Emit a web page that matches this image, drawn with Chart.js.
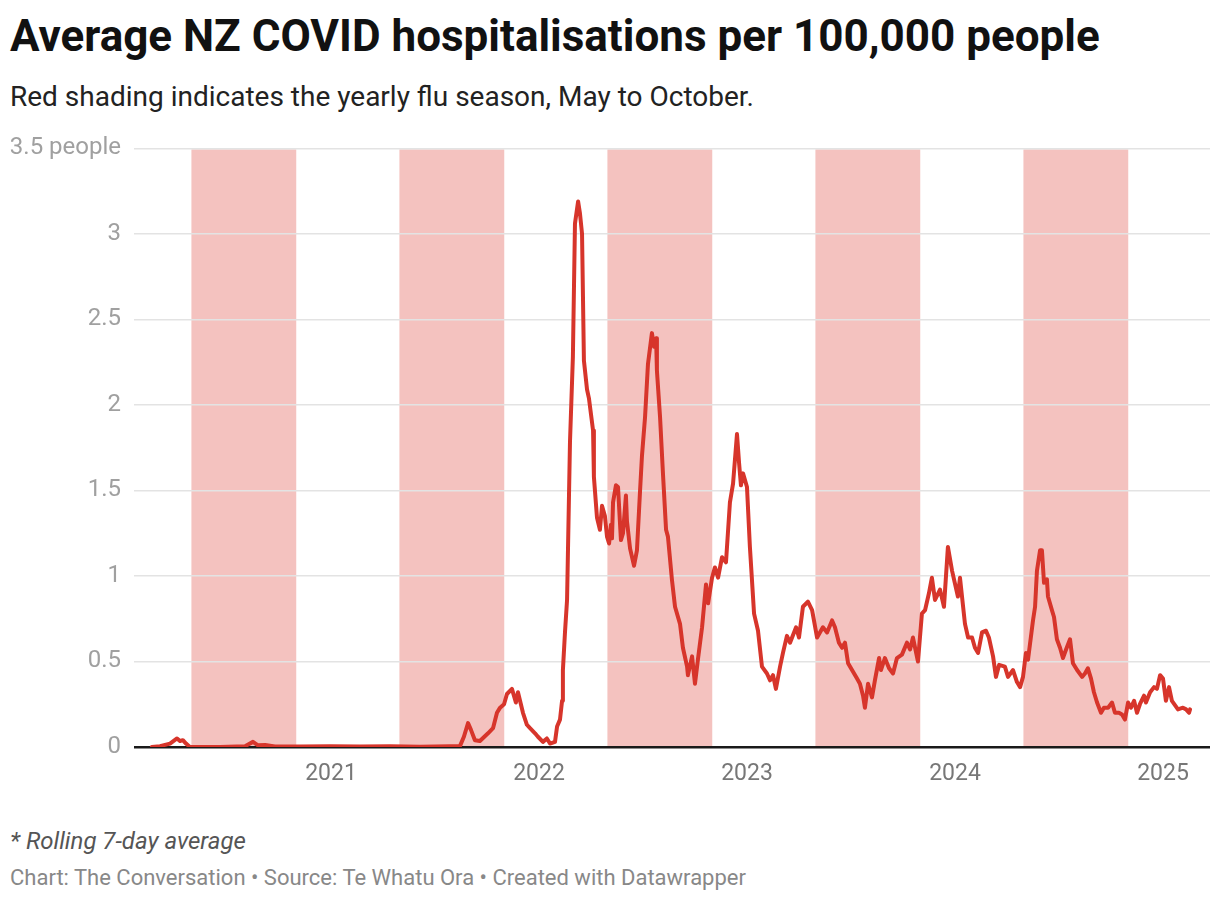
<!DOCTYPE html>
<html>
<head>
<meta charset="utf-8">
<script src="https://cdn.jsdelivr.net/npm/chart.js@4.4.0/dist/chart.umd.min.js"></script>
<style>
  html, body { margin: 0; padding: 0; background: #fff; }
  body { width: 1220px; height: 902px; position: relative; overflow: hidden; font-family: Roboto, "Noto Sans", sans-serif; }
  .t { position: absolute; left: 10px; white-space: nowrap; line-height: 1; }
  #title { top: 14px; font-size: 44px; font-weight: 700; color: #111; }
  #sub { top: 83px; font-size: 28px; color: #222; }
  #note { top: 829px; font-size: 24px; font-style: italic; color: #555; }
  #src { top: 867px; font-size: 22px; color: #888; }
  #wrap { position: absolute; left: 0; top: 121px; width: 1220px; height: 679px; }
</style>
</head>
<body>
<div class="t" id="title">Average NZ COVID hospitalisations per 100,000 people</div>
<div class="t" id="sub">Red shading indicates the yearly flu season, May to October.</div>
<div id="wrap"><canvas id="c"></canvas></div>
<div class="t" id="note">* Rolling 7-day average</div>
<div class="t" id="src">Chart: The Conversation • Source: Te Whatu Ora • Created with Datawrapper</div>
<script>
// Dates as decimal years
const dates = [
  2020.139, 2020.178, 2020.226, 2020.260, 2020.274, 2020.288, 2020.303, 2020.322, 2020.466, 2020.587,
  2020.625, 2020.649, 2020.683, 2020.731, 2020.851, 2020.995, 2021.139, 2021.284, 2021.428, 2021.572,
  2021.620, 2021.639, 2021.659, 2021.673, 2021.692, 2021.716, 2021.755, 2021.779, 2021.798, 2021.813,
  2021.832, 2021.846, 2021.870, 2021.889, 2021.899, 2021.923, 2021.942, 2021.957, 2021.981, 2021.995,
  2022.019, 2022.038, 2022.053, 2022.077, 2022.087, 2022.101, 2022.111, 2022.115, 2022.125, 2022.135,
  2022.149, 2022.163, 2022.173, 2022.188, 2022.197, 2022.207, 2022.216, 2022.231, 2022.240, 2022.260,
  2022.264, 2022.279, 2022.293, 2022.303, 2022.317, 2022.327, 2022.337, 2022.346, 2022.351, 2022.356,
  2022.370, 2022.380, 2022.394, 2022.404, 2022.418, 2022.423, 2022.438, 2022.457, 2022.471, 2022.486,
  2022.495, 2022.510, 2022.524, 2022.543, 2022.553, 2022.563, 2022.567, 2022.582, 2022.596, 2022.611,
  2022.620, 2022.639, 2022.654, 2022.678, 2022.692, 2022.712, 2022.716, 2022.736, 2022.750, 2022.764,
  2022.784, 2022.803, 2022.813, 2022.832, 2022.846, 2022.861, 2022.880, 2022.899, 2022.918, 2022.933,
  2022.952, 2022.962, 2022.971, 2022.981, 2023.000, 2023.014, 2023.034, 2023.053, 2023.072, 2023.096,
  2023.111, 2023.125, 2023.139, 2023.159, 2023.173, 2023.192, 2023.207, 2023.236, 2023.250, 2023.269,
  2023.293, 2023.313, 2023.337, 2023.365, 2023.385, 2023.409, 2023.423, 2023.442, 2023.457, 2023.471,
  2023.486, 2023.505, 2023.529, 2023.543, 2023.558, 2023.567, 2023.582, 2023.601, 2023.615, 2023.635,
  2023.644, 2023.663, 2023.683, 2023.702, 2023.721, 2023.745, 2023.769, 2023.784, 2023.798, 2023.822,
  2023.841, 2023.856, 2023.875, 2023.889, 2023.904, 2023.928, 2023.947, 2023.966, 2023.986, 2024.014,
  2024.024, 2024.048, 2024.063, 2024.082, 2024.096, 2024.111, 2024.130, 2024.149, 2024.163, 2024.183,
  2024.197, 2024.212, 2024.240, 2024.255, 2024.279, 2024.298, 2024.313, 2024.327, 2024.341, 2024.351,
  2024.375, 2024.385, 2024.394, 2024.409, 2024.418, 2024.428, 2024.442, 2024.447, 2024.466, 2024.476,
  2024.490, 2024.505, 2024.519, 2024.534, 2024.553, 2024.567, 2024.587, 2024.611, 2024.625, 2024.639,
  2024.654, 2024.668, 2024.683, 2024.702, 2024.716, 2024.736, 2024.755, 2024.769, 2024.788, 2024.803,
  2024.817, 2024.832, 2024.846, 2024.861, 2024.875, 2024.889, 2024.909, 2024.918, 2024.938, 2024.957,
  2024.971, 2024.986, 2025.000, 2025.014, 2025.029, 2025.043, 2025.072, 2025.096, 2025.111, 2025.125,
  2025.130
];
const hospitalisations = [
  0.00, 0.005, 0.02, 0.05, 0.035, 0.04, 0.02, 0.00, 0.00, 0.005,
  0.03, 0.01, 0.012, 0.003, 0.003, 0.005, 0.003, 0.005, 0.002, 0.004,
  0.005, 0.06, 0.14, 0.10, 0.04, 0.035, 0.08, 0.11, 0.20, 0.23,
  0.25, 0.31, 0.34, 0.26, 0.32, 0.20, 0.13, 0.11, 0.08, 0.06,
  0.03, 0.05, 0.02, 0.03, 0.12, 0.16, 0.27, 0.45, 0.67, 0.86,
  1.78, 2.28, 3.06, 3.19, 3.12, 3.00, 2.26, 2.09, 2.04, 1.85,
  1.58, 1.34, 1.27, 1.41, 1.35, 1.23, 1.19, 1.30, 1.22, 1.43,
  1.53, 1.52, 1.21, 1.25, 1.47, 1.32, 1.16, 1.06, 1.15, 1.50,
  1.70, 1.93, 2.24, 2.42, 2.34, 2.39, 2.20, 1.93, 1.60, 1.27,
  1.23, 0.98, 0.82, 0.72, 0.58, 0.47, 0.42, 0.53, 0.37, 0.51,
  0.70, 0.95, 0.84, 0.99, 1.05, 0.99, 1.11, 1.08, 1.43, 1.54,
  1.83, 1.66, 1.53, 1.60, 1.52, 1.17, 0.78, 0.68, 0.47, 0.43,
  0.39, 0.42, 0.34, 0.47, 0.55, 0.65, 0.61, 0.70, 0.64, 0.82,
  0.85, 0.80, 0.64, 0.70, 0.67, 0.74, 0.70, 0.61, 0.58, 0.61,
  0.49, 0.45, 0.40, 0.37, 0.30, 0.23, 0.37, 0.29, 0.39, 0.52,
  0.45, 0.52, 0.46, 0.43, 0.52, 0.54, 0.61, 0.57, 0.64, 0.50,
  0.78, 0.80, 0.90, 0.99, 0.86, 0.92, 0.82, 1.17, 1.03, 0.88,
  0.99, 0.72, 0.64, 0.64, 0.58, 0.55, 0.67, 0.68, 0.64, 0.53,
  0.41, 0.48, 0.47, 0.41, 0.45, 0.38, 0.35, 0.41, 0.55, 0.51,
  0.74, 0.82, 1.03, 1.15, 1.15, 0.96, 0.98, 0.88, 0.80, 0.76,
  0.63, 0.58, 0.52, 0.57, 0.63, 0.49, 0.45, 0.41, 0.43, 0.46,
  0.40, 0.32, 0.26, 0.20, 0.23, 0.23, 0.26, 0.20, 0.20, 0.19,
  0.16, 0.26, 0.23, 0.27, 0.20, 0.25, 0.30, 0.26, 0.32, 0.35,
  0.34, 0.42, 0.40, 0.27, 0.35, 0.27, 0.22, 0.23, 0.22, 0.20,
  0.22
];
// Flu seasons (May 1 to Nov 1), decimal years
const fluStart = [2020.329, 2021.329, 2022.329, 2023.329, 2024.329];
const fluEnd   = [2020.833, 2021.833, 2022.833, 2023.833, 2024.833];
const yearTicks = [2021, 2022, 2023, 2024, 2025];
const yTicks = [0, 0.5, 1, 1.5, 2, 2.5, 3, 3.5];

const shadePlugin = {
  id: 'shade',
  beforeDraw(chart) {
    const { ctx, chartArea, scales } = chart;
    ctx.save();
    ctx.fillStyle = 'rgba(217,54,43,0.3)';
    for (let i = 0; i < fluStart.length; i++) {
      const x0 = scales.x.getPixelForValue(fluStart[i]);
      const x1 = scales.x.getPixelForValue(fluEnd[i]);
      ctx.fillRect(x0, chartArea.top + 1, x1 - x0, chartArea.bottom - chartArea.top - 1);
    }
    ctx.restore();
  }
};

new Chart(document.getElementById('c'), {
  type: 'line',
  data: {
    datasets: [{
      data: dates.map((d, i) => ({ x: d, y: hospitalisations[i] })),
      borderColor: '#d7352b',
      borderWidth: 4,
      pointRadius: 0,
      tension: 0,
      fill: false,
      borderJoinStyle: 'round',
      borderCapStyle: 'round'
    }]
  },
  options: {
    responsive: true,
    maintainAspectRatio: false,
    animation: false,
    layout: { padding: { top: 11, right: 10, left: 0, bottom: 0 } },
    plugins: { legend: { display: false }, tooltip: { enabled: false } },
    scales: {
      x: {
        type: 'linear',
        min: 2020.053,
        max: 2025.226,
        afterBuildTicks(s) { s.ticks = yearTicks.map(v => ({ value: v })); },
        afterFit(s) { s.height = 53; },
        grid: { display: false, drawTicks: false },
        border: { display: false },
        ticks: {
          padding: 13,
          color: '#777',
          font: { family: 'Roboto', size: 23 },
          callback: v => String(v),
          maxRotation: 0, autoSkip: false
        }
      },
      y: {
        min: 0,
        max: 3.5,
        afterBuildTicks(s) { s.ticks = yTicks.map(v => ({ value: v })); },
        afterFit(s) { s.width = 134; },
        border: { display: false },
        grid: {
          drawTicks: false,
          color: c => c.tick && c.tick.value === 0 ? '#1a1a1a' : '#e3e3e3',
          lineWidth: c => c.tick && c.tick.value === 0 ? 2.5 : 1.5
        },
        ticks: {
          padding: 13,
          color: '#a0a0a0',
          font: { family: 'Roboto', size: 24 },
          callback: v => v === 3.5 ? '3.5 people' : String(v)
        }
      }
    }
  },
  plugins: [shadePlugin]
});
</script>
</body>
</html>
